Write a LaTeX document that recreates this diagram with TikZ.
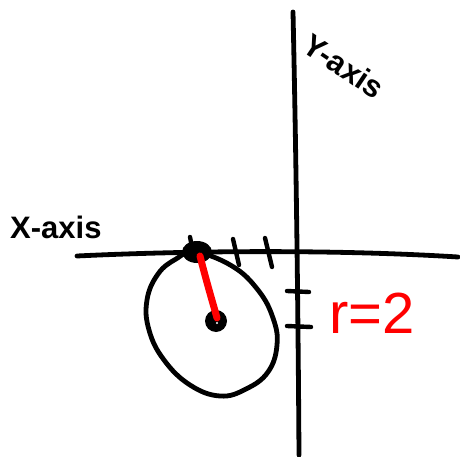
\documentclass[tikz,border=0pt]{standalone}
\usepackage{fontspec}
\setmainfont{Liberation Sans}
\begin{document}
\begin{tikzpicture}[x=1pt,y=-1pt,
  ink/.style={line width=4.8pt,line cap=round,line join=round,black},
  redink/.style={line width=7pt,line cap=round,red},
  tick/.style={line width=4.4pt,line cap=round,black},
  lbl/.style={inner sep=0pt,font=\bfseries\fontsize{31}{31}\selectfont}]
\useasboundingbox (0,0) rectangle (460,457);
% axes
\coordinate (xl) at (77,256);
\coordinate (xr) at (458,257);
\coordinate (yt) at (293,12);
\coordinate (yb) at (299,455);
\draw[ink] (xl) .. controls (180,251) and (330,249) .. (xr);
\draw[ink] (yt) .. controls (296,150) and (298,300) .. (yb);
% circle (hand drawn)
\draw[ink] plot[smooth cycle,tension=0.7] coordinates {(195,252) (232,266) (258,290) (273,318) (277,345) (268,372) (246,389) (220,396) (190,385) (164,360) (149,330) (147,300) (158,274) (176,259)};
% blob and centre
\fill[black] (197,252) ellipse (15pt and 11pt);
\fill[black] (216,321) circle (11pt);
\fill[white] (217,323) circle (1.2pt);
% radius
\coordinate (rp) at (200,256);
\coordinate (cp) at (217,318);
\draw[redink] (rp) .. controls (206,280) and (212,300) .. (cp);
% ticks
\draw[tick] (190,237) -- (192,247);
\draw[tick] (233,239) -- (239,265);
\draw[tick] (265,238) -- (272,267);
\draw[tick] (287,291) -- (309,292);
\draw[tick] (287,326) -- (311,327);
% labels
\node[lbl,anchor=west] (xlab) at (10,227) {X-axis};
\node[lbl,anchor=center,rotate=-34] (ylab) at (344,66) {Y-axis};
\node[inner sep=0pt,text=red,font=\fontsize{58}{58}\selectfont] (rlab) at (372,313) {r=2};
\end{tikzpicture}
\end{document}
